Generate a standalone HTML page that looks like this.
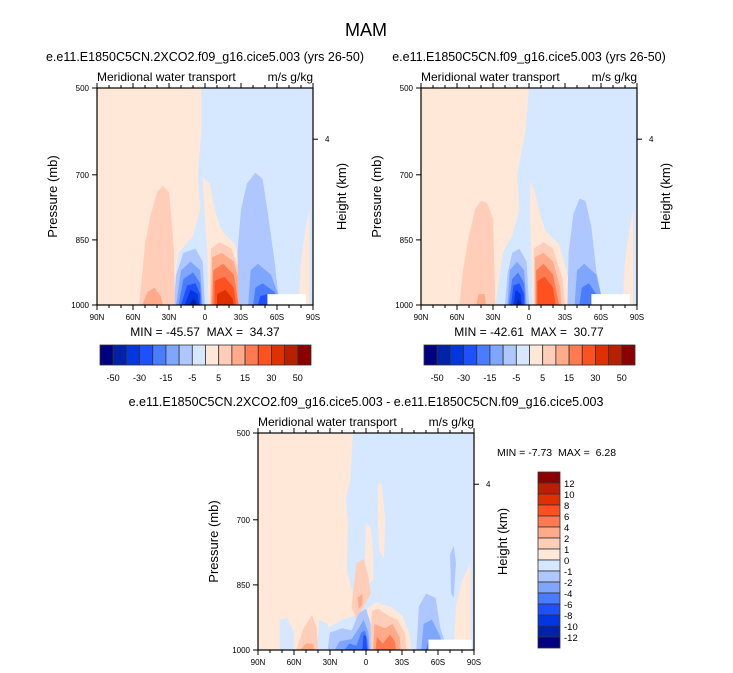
<!DOCTYPE html>
<html><head><meta charset="utf-8"><style>
body{margin:0;background:#fff;}
svg{display:block;font-family:"Liberation Sans",Arial,sans-serif;}
text{white-space:pre;}
</style></head><body>
<svg id="chart" width="733" height="673" viewBox="0 0 733 673">
<text x="366" y="36" font-size="18" text-anchor="middle">MAM</text>
</svg>
<script>
const NS="http://www.w3.org/2000/svg";
const svg=document.getElementById('chart');
const colors=["#000080","#0022a8","#0037e0","#1e50ff","#4a7cff","#7ea6ff","#aec8ff","#d6e8ff","#ffe8d8","#ffcdb8","#ffaa88","#ff7a50","#ff5020","#e03000","#b82000","#8b0000"];
const latTicks=[90,60,30,0,-30,-60,-90];
const latLabels=["90N","60N","30N","0","30S","60S","90S"];
const pTicks=[500,700,850,1000];
const cbLabelsTop=["-50","-30","-15","-5","5","15","30","50"];
const cbLabelsDiff=["12","10","8","6","4","2","1","0","-1","-2","-4","-6","-8","-10","-12"];
// contour regions: level index, [lat, pressure] vertices
const fieldTL=[
 {lv:7,pts:[[3,500],[-90,500],[-90,1000],[28,1000],[22,880],[10,840],[4,780],[6,700],[3,600]]},
 {lv:8,pts:[[-78,1000],[-80,900],[-84,820],[-87,780],[-87,1000]]},
 {lv:8,pts:[[2,705],[-4,720],[-8,780],[-14,830],[-25,860],[-33,940],[-36,1000],[-3,1000],[-2,880],[0,800]]},
 {lv:9,pts:[[-5,870],[-12,855],[-22,870],[-31,940],[-33,1000],[-4,1000]]},
 {lv:10,pts:[[-6,890],[-14,880],[-24,900],[-30,960],[-31,1000],[-5,1000]]},
 {lv:11,pts:[[-7,920],[-15,905],[-24,930],[-28,1000],[-6,1000]]},
 {lv:12,pts:[[-8,945],[-16,935],[-24,960],[-26,1000],[-8,1000]]},
 {lv:13,pts:[[-10,975],[-17,965],[-23,985],[-24,1000],[-10,1000]]},
 {lv:6,pts:[[26,1000],[24,930],[18,880],[8,870],[2,900],[0,1000]]},
 {lv:5,pts:[[24,1000],[20,920],[12,900],[4,920],[2,1000]]},
 {lv:4,pts:[[22,1000],[18,940],[10,925],[4,950],[3,1000]]},
 {lv:3,pts:[[20,1000],[15,955],[8,950],[4,975],[4,1000]]},
 {lv:2,pts:[[17,1000],[12,965],[6,975],[5,1000]]},
 {lv:1,pts:[[13,1000],[10,985],[7,995],[7,1000]]},
 {lv:6,pts:[[-28,1000],[-27,880],[-30,780],[-35,720],[-42,695],[-48,710],[-53,800],[-58,900],[-62,1000]]},
 {lv:5,pts:[[-36,1000],[-38,920],[-44,905],[-55,930],[-64,1000]]},
 {lv:4,pts:[[-40,1000],[-42,960],[-48,950],[-58,970],[-62,1000]]},
 {lv:3,pts:[[-44,1000],[-46,980],[-52,975],[-57,990],[-58,1000]]},
 {lv:9,pts:[[55,1000],[52,920],[50,860],[45,790],[40,740],[35,725],[30,740],[28,800],[26,870],[25,1000]]},
 {lv:10,pts:[[52,1000],[48,970],[42,960],[37,980],[35,1000]]},
 {lv:-1,pts:[[-52,975],[-84,975],[-84,1000],[-52,1000]]}
];
const fieldTR=[
 {lv:7,pts:[[0,500],[-90,500],[-90,1000],[28,1000],[22,880],[14,840],[8,780],[10,700],[3,600]]},
 {lv:8,pts:[[-78,1000],[-80,900],[-84,820],[-87,780],[-87,1000]]},
 {lv:8,pts:[[-1,715],[-5,740],[-9,790],[-14,830],[-25,860],[-33,940],[-36,1000],[-3,1000],[-2,880],[-1,800]]},
 {lv:9,pts:[[-4,870],[-12,855],[-20,870],[-28,940],[-30,1000],[-4,1000]]},
 {lv:10,pts:[[-5,890],[-12,880],[-20,900],[-26,960],[-27,1000],[-5,1000]]},
 {lv:11,pts:[[-6,920],[-12,905],[-20,930],[-25,1000],[-6,1000]]},
 {lv:12,pts:[[-7,945],[-13,935],[-20,960],[-22,1000],[-7,1000]]},
 {lv:6,pts:[[20,1000],[18,930],[14,880],[8,870],[2,900],[0,1000]]},
 {lv:5,pts:[[18,1000],[16,920],[10,900],[4,920],[2,1000]]},
 {lv:4,pts:[[17,1000],[14,940],[9,925],[4,950],[3,1000]]},
 {lv:3,pts:[[15,1000],[13,955],[8,950],[4,975],[4,1000]]},
 {lv:2,pts:[[13,1000],[11,965],[7,975],[6,1000]]},
 {lv:1,pts:[[11,1000],[9,985],[7,995],[7,1000]]},
 {lv:6,pts:[[-32,1000],[-33,880],[-37,790],[-42,755],[-47,760],[-52,820],[-56,920],[-62,1000]]},
 {lv:5,pts:[[-38,1000],[-40,920],[-46,905],[-56,930],[-62,1000]]},
 {lv:4,pts:[[-42,1000],[-44,960],[-50,950],[-56,975],[-58,1000]]},
 {lv:9,pts:[[58,1000],[55,920],[50,840],[45,780],[40,760],[35,765],[30,800],[28,1000]]},
 {lv:10,pts:[[44,1000],[42,975],[37,975],[36,1000]]},
 {lv:-1,pts:[[-52,975],[-84,975],[-84,1000],[-52,1000]]}
];
const fieldDiff=[
 {lv:7,pts:[[11,500],[-90,500],[-90,1000],[30,1000],[32,950],[20,930],[8,920],[5,898],[12,860],[16,814],[15,700],[17,652],[13,606]]},
 {lv:7,pts:[[72,1000],[72,930],[66,925],[60,960],[60,1000]]},
 {lv:7,pts:[[41,1000],[39,930],[32,940],[30,1000]]},
 {lv:8,pts:[[-73,1000],[-75,900],[-80,840],[-87,800],[-87,1000]]},
 {lv:8,pts:[[0,706],[-4,720],[-6,780],[-6,837],[-2,850],[1,790]]},
 {lv:8,pts:[[-10,620],[-13,615],[-16,700],[-15,790],[-11,770],[-10,700]]},
 {lv:8,pts:[[-1,905],[-8,890],[-20,900],[-30,920],[-36,960],[-38,1000],[-2,1000]]},
 {lv:9,pts:[[8,800],[2,790],[-2,830],[-4,870],[2,900],[8,930],[12,900]]},
 {lv:10,pts:[[7,880],[3,870],[3,895],[6,905]]},
 {lv:9,pts:[[-3,1000],[-5,910],[-10,905],[-18,920],[-26,930],[-32,960],[-34,1000]]},
 {lv:10,pts:[[-6,1000],[-7,940],[-16,950],[-22,940],[-28,970],[-29,1000]]},
 {lv:11,pts:[[-8,1000],[-9,970],[-14,985],[-20,965],[-24,980],[-25,1000]]},
 {lv:9,pts:[[58,1000],[52,950],[45,920],[41,950],[40,1000]]},
 {lv:10,pts:[[55,1000],[50,985],[44,985],[43,1000]]},
 {lv:6,pts:[[32,1000],[30,960],[20,950],[12,955],[6,915],[0,905],[-4,940],[-4,1000]]},
 {lv:5,pts:[[26,1000],[22,980],[12,975],[6,950],[2,930],[-2,960],[-3,1000]]},
 {lv:4,pts:[[18,1000],[14,985],[8,990],[4,960],[1,955],[-1,975],[-2,1000]]},
 {lv:3,pts:[[3,1000],[2,965],[0,968],[-1,1000]]},
 {lv:6,pts:[[-42,1000],[-44,900],[-50,870],[-58,880],[-62,950],[-68,1000]]},
 {lv:5,pts:[[-46,1000],[-48,940],[-55,930],[-62,970],[-64,1000]]},
 {lv:4,pts:[[-50,1000],[-52,980],[-58,985],[-58,1000]]},
 {lv:6,pts:[[-70,780],[-73,760],[-75,800],[-73,880],[-71,870]]},
 {lv:-1,pts:[[-52,976],[-88,976],[-88,1000],[-52,1000]]}
];

function mk(tag,attrs,parent){const e=document.createElementNS(NS,tag);for(const k in attrs)e.setAttribute(k,attrs[k]);(parent||svg).appendChild(e);return e;}
function txt(x,y,s,size,anchor,parent,rot){const t=mk('text',{x:x,y:y,'font-size':size,'text-anchor':anchor||'middle'},parent);if(rot)t.setAttribute('transform','rotate(-90 '+x+' '+y+')');t.textContent=s;return t;}

function panel(x0,y0,w,h,field,name,title,minmax){
  const g=mk('g',{});
  
  
  const xs=lat=>x0+(90-lat)/180*w;
  const ys=p=>y0+(p-500)/500*h;
  const bg=mk('rect',{x:x0,y:y0,width:w,height:h,fill:colors[8]},g);
  
  
  field.forEach(r=>{
    const pl=mk('polygon',{points:r.pts.map(q=>xs(q[0]).toFixed(1)+','+ys(q[1]).toFixed(1)).join(' '),fill:r.lv<0?'#ffffff':colors[r.lv]},g);
    
    
  });
  const fr=mk('rect',{x:x0,y:y0,width:w,height:h,fill:'none',stroke:'#000','stroke-width':1.2},g);
  
  
  for(let l=90;l>=-90;l-=10){
    const X=xs(l),L=(l%30===0)?5:3;
    mk('line',{x1:X,x2:X,y1:y0,y2:y0-L,stroke:'#000'},g);
    mk('line',{x1:X,x2:X,y1:y0+h,y2:y0+h+L,stroke:'#000'},g);
  }
  latTicks.forEach((l,i)=>{const t=txt(xs(l),y0+h+15,latLabels[i],8,'middle',g);});
  pTicks.forEach(p=>{mk('line',{x1:x0,x2:x0-5,y1:ys(p),y2:ys(p),stroke:'#000'},g);const t=txt(x0-8,ys(p)+3,String(p),8,'end',g);});
  const hy=ys(618);
  mk('line',{x1:x0+w,x2:x0+w+5,y1:hy,y2:hy,stroke:'#000'},g);
  txt(x0+w+12,hy+3,'4',8,'start',g);
  const yt=txt(x0-40,y0+h/2,'Pressure (mb)',13,'middle',g,true);
  
  const yr=txt(x0+w+33,y0+h/2,'Height (km)',13,'middle',g,true);
  
  const lt=txt(x0,y0-7,'Meridional water transport',12,'start',g);
  
  const rt=txt(x0+w,y0-7,'m/s g/kg',12,'end',g);
  
  const tt=txt(x0+w/2,y0-27,title,12.5,'middle',g);
  
  if(minmax){const m=txt(x0+w/2,y0+h+31,minmax,12,'middle',g);}
}
function hbar(x0,y0,w,h,name){
  const g=mk('g',{});
  
  
  const bw=w/16;
  colors.forEach((c,i)=>{const r=mk('rect',{x:x0+i*bw,y:y0,width:bw,height:h,fill:c,stroke:'#333','stroke-width':0.8},g);});
  cbLabelsTop.forEach((s,i)=>{const t=txt(x0+(2*i+1)*bw,y0+h+16,s,9,'middle',g);});
}
panel(97,88,216,217,fieldTL,'panel-2xco2','e.e11.E1850C5CN.2XCO2.f09_g16.cice5.003 (yrs 26-50)','MIN = -45.57  MAX =  34.37');
panel(421,88,216,217,fieldTR,'panel-control','e.e11.E1850C5CN.f09_g16.cice5.003 (yrs 26-50)','MIN = -42.61  MAX =  30.77');
hbar(100,345,211,20,'colorbar-left');
hbar(424,345,211,20,'colorbar-right');
panel(258,433,216,217,fieldDiff,'panel-difference','e.e11.E1850C5CN.2XCO2.f09_g16.cice5.003 - e.e11.E1850C5CN.f09_g16.cice5.003',null);
const mm=txt(497,456,'MIN = -7.73  MAX =  6.28',10.5,'start');

(function(){
  const g=mk('g',{});
  
  
  const x0=538,y0=472,w=22,bh=11;
  colors.slice().reverse().forEach((c,i)=>{const r=mk('rect',{x:x0,y:y0+i*bh,width:w,height:bh,fill:c,stroke:'#333','stroke-width':0.8},g);});
  cbLabelsDiff.forEach((s,i)=>{const t=txt(x0+w+4,y0+(i+1)*bh+4,s,9.5,'start',g);});
})();
</script>
</body></html>
